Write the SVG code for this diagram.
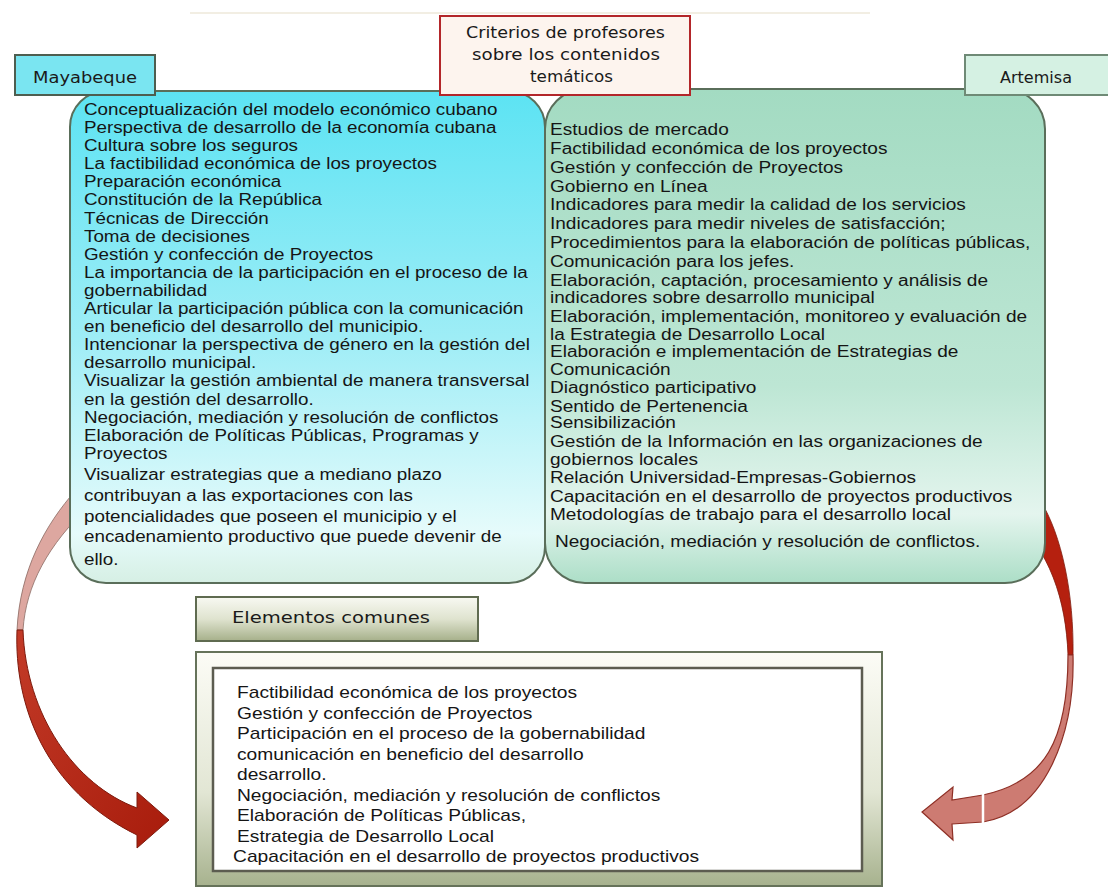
<svg xmlns="http://www.w3.org/2000/svg" width="1108" height="896" viewBox="0 0 1108 896">
<defs>
<linearGradient id="gLeft" x1="0" y1="0" x2="0" y2="1">
<stop offset="0" stop-color="#5ce3f3"/><stop offset="0.5" stop-color="#9eedf6"/><stop offset="0.9" stop-color="#e6fbfb"/><stop offset="1" stop-color="#d6efe4"/>
</linearGradient>
<linearGradient id="gRight" x1="0" y1="0" x2="0" y2="1">
<stop offset="0" stop-color="#a3dbc2"/><stop offset="0.6" stop-color="#bde6d4"/><stop offset="0.86" stop-color="#e4f5ee"/><stop offset="1" stop-color="#acdec7"/>
</linearGradient>
<linearGradient id="gOlive" x1="0" y1="0" x2="0" y2="1">
<stop offset="0" stop-color="#f8f9f2"/><stop offset="0.5" stop-color="#dfe3cf"/><stop offset="1" stop-color="#a6b08a"/>
</linearGradient>
<linearGradient id="gFrame" x1="0" y1="0" x2="0" y2="1">
<stop offset="0" stop-color="#fcfcf6"/><stop offset="0.6" stop-color="#e2e6d4"/><stop offset="1" stop-color="#a7b28e"/>
</linearGradient>
<linearGradient id="gRed" x1="0" y1="0" x2="1" y2="1">
<stop offset="0" stop-color="#c23a27"/><stop offset="1" stop-color="#a81c0c"/>
</linearGradient>
<style>
.body{font-family:"Liberation Sans",Arial,sans-serif;font-size:16px;fill:#151515}
.lab{font-family:"DejaVu Sans",Verdana,sans-serif;font-size:15px;fill:#1a1a1a}
</style>
</defs>
<rect width="1108" height="896" fill="#ffffff"/>
<line x1="190" y1="13" x2="870" y2="13" stroke="#eee8da" stroke-width="1.5"/>

<g id="connectors">
<path d="M 76,490 C 45,525 20,570 17,630 L 23,630 C 26,585 48,545 90,505 Z" fill="#dda7a0" stroke="#8a6a62" stroke-width="0.8"/>
<path d="M 17,630 C 14,705 45,790 137,835 L 137,848 L 169,820 L 137,792 L 137,808 C 75,785 26,715 23,630 Z" fill="url(#gRed)" stroke="#7d1a0d" stroke-width="1"/>
<path d="M 1040,500 C 1062,535 1074,595 1073,655 L 1068,655 C 1066,600 1050,550 1010,515 Z" fill="#b5200f" stroke="#7d1a0d" stroke-width="0.8"/>
<path d="M 1073,655 C 1075,735 1045,812 983,822 L 952,824 L 953,840 L 922,812 L 953,787 L 952,800 L 983,795 C 1045,782 1068,740 1068,655 Z" fill="#cd7b72" stroke="#8e2f25" stroke-width="1.2"/>
<line x1="983" y1="794" x2="983" y2="823" stroke="#ffffff" stroke-width="2.5"/>
</g>

<g id="node-left">
<rect x="70" y="91" width="475" height="492" rx="36" fill="url(#gLeft)" stroke="#5a6e5a" stroke-width="2"/>
<g transform="translate(84,0) scale(1.175,1)">
<text class="body">
<tspan x="0" y="115">Conceptualización del modelo económico cubano</tspan>
<tspan x="0" y="133.1">Perspectiva de desarrollo de la economía cubana</tspan>
<tspan x="0" y="151.2">Cultura sobre los seguros</tspan>
<tspan x="0" y="169.3">La factibilidad económica de los proyectos</tspan>
<tspan x="0" y="187.4">Preparación económica</tspan>
<tspan x="0" y="205.5">Constitución de la República</tspan>
<tspan x="0" y="223.6">Técnicas de Dirección</tspan>
<tspan x="0" y="241.7">Toma de decisiones</tspan>
<tspan x="0" y="259.8">Gestión y confección de Proyectos</tspan>
<tspan x="0" y="277.9">La importancia de la participación en el proceso de la</tspan>
<tspan x="0" y="296">gobernabilidad</tspan>
<tspan x="0" y="314.1">Articular la participación pública con la comunicación</tspan>
<tspan x="0" y="332.2">en beneficio del desarrollo del municipio.</tspan>
<tspan x="0" y="350.3">Intencionar la perspectiva de género en la gestión del</tspan>
<tspan x="0" y="368.4">desarrollo municipal.</tspan>
<tspan x="0" y="386.5">Visualizar la gestión ambiental de manera transversal</tspan>
<tspan x="0" y="404.6">en la gestión del desarrollo.</tspan>
<tspan x="0" y="422.7">Negociación, mediación y resolución de conflictos</tspan>
<tspan x="0" y="440.8">Elaboración de Políticas Públicas, Programas y</tspan>
<tspan x="0" y="458.9">Proyectos</tspan>
<tspan x="0" y="480">Visualizar estrategias que a mediano plazo</tspan>
<tspan x="0" y="501.5">contribuyan a las exportaciones con las</tspan>
<tspan x="0" y="522">potencialidades que poseen el municipio y el</tspan>
<tspan x="0" y="542.5">encadenamiento productivo que puede devenir de</tspan>
<tspan x="0" y="565.5">ello.</tspan>
</text>
</g>
</g>

<g id="node-right">
<rect x="545" y="89" width="500" height="494" rx="40" fill="url(#gRight)" stroke="#5a6e5a" stroke-width="2"/>
<g transform="translate(550,0) scale(1.19,1)">
<text class="body">
<tspan x="0" y="135.5">Estudios de mercado</tspan>
<tspan x="0" y="154.5">Factibilidad económica de los proyectos</tspan>
<tspan x="0" y="173.5">Gestión y confección de Proyectos</tspan>
<tspan x="0" y="192.5">Gobierno en Línea</tspan>
<tspan x="0" y="210.5">Indicadores para medir la calidad de los servicios</tspan>
<tspan x="0" y="229.5">Indicadores para medir niveles de satisfacción;</tspan>
<tspan x="0" y="248.5">Procedimientos para la elaboración de políticas públicas,</tspan>
<tspan x="0" y="267.5">Comunicación para los jefes.</tspan>
<tspan x="0" y="285.5">Elaboración, captación, procesamiento y análisis de</tspan>
<tspan x="0" y="303.5">indicadores sobre desarrollo municipal</tspan>
<tspan x="0" y="322.5">Elaboración, implementación, monitoreo y evaluación de</tspan>
<tspan x="0" y="340.5">la Estrategia de Desarrollo Local</tspan>
<tspan x="0" y="357.5">Elaboración e implementación de Estrategias de</tspan>
<tspan x="0" y="375.5">Comunicación</tspan>
<tspan x="0" y="393.5">Diagnóstico participativo</tspan>
<tspan x="0" y="412.5">Sentido de Pertenencia</tspan>
<tspan x="0" y="428.5">Sensibilización</tspan>
<tspan x="0" y="447.5">Gestión de la Información en las organizaciones de</tspan>
<tspan x="0" y="465.5">gobiernos locales</tspan>
<tspan x="0" y="483.5">Relación Universidad-Empresas-Gobiernos</tspan>
<tspan x="0" y="502.5">Capacitación en el desarrollo de proyectos productivos</tspan>
<tspan x="0" y="520.5">Metodologías de trabajo para el desarrollo local</tspan>
<tspan x="4.2" y="547.5">Negociación, mediación y resolución de conflictos.</tspan>
</text>
</g>
</g>

<g id="node-mayabeque">
<rect x="15" y="55" width="140" height="40" fill="#7ae5f1" stroke="#4e5e50" stroke-width="2"/>
<text class="lab" x="33" y="83" textLength="104" lengthAdjust="spacingAndGlyphs">Mayabeque</text>
</g>

<g id="node-artemisa">
<rect x="965" y="55" width="150" height="40" fill="#d5f1e3" stroke="#6f8a76" stroke-width="2"/>
<text class="lab" x="1000" y="83" textLength="72" lengthAdjust="spacingAndGlyphs">Artemisa</text>
</g>

<g id="node-criterios">
<rect x="440" y="16" width="250" height="79" fill="#fdf4ee" stroke="#b3262a" stroke-width="2"/>
<text class="lab" x="466" y="38" textLength="199" lengthAdjust="spacingAndGlyphs">Criterios de profesores</text>
<text class="lab" x="472" y="60" textLength="188" lengthAdjust="spacingAndGlyphs">sobre los contenidos</text>
<text class="lab" x="530" y="82" textLength="83" lengthAdjust="spacingAndGlyphs">temáticos</text>
</g>

<g id="node-elementos">
<rect x="196" y="597" width="282" height="44" fill="url(#gOlive)" stroke="#5f6b50" stroke-width="2"/>
<text class="lab" x="232" y="623" textLength="198" lengthAdjust="spacingAndGlyphs">Elementos comunes</text>
</g>

<g id="node-comunes">
<rect x="196" y="652" width="686" height="234" fill="url(#gFrame)" stroke="#66735a" stroke-width="2"/>
<rect x="213" y="668" width="649" height="203" fill="#ffffff" stroke="#5c5c50" stroke-width="2.5"/>
<g transform="translate(237,0) scale(1.2,1)">
<text class="body">
<tspan x="0" y="698.5">Factibilidad económica de los proyectos</tspan>
<tspan x="0" y="719">Gestión y confección de Proyectos</tspan>
<tspan x="0" y="739.5">Participación en el proceso de la gobernabilidad</tspan>
<tspan x="0" y="760">comunicación en beneficio del desarrollo</tspan>
<tspan x="0" y="780.5">desarrollo.</tspan>
<tspan x="0" y="801">Negociación, mediación y resolución de conflictos</tspan>
<tspan x="0" y="821.5">Elaboración de Políticas Públicas,</tspan>
<tspan x="0" y="842">Estrategia de Desarrollo Local</tspan>
<tspan x="-3.3" y="862.5">Capacitación en el desarrollo de proyectos productivos</tspan>
</text>
</g>
</g>
</svg>
